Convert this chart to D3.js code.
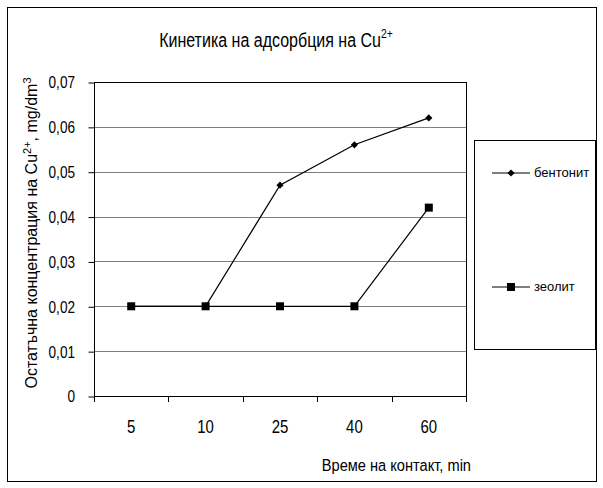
<!DOCTYPE html>
<html>
<head>
<meta charset="utf-8">
<script src="https://cdn.jsdelivr.net/npm/d3@7"></script>
<style>
  body { margin: 0; background: #fff; }
  text { font-family: "Liberation Sans", Arial, sans-serif; fill: #000; }
</style>
</head>
<body>
<svg id="chart" width="603" height="488"></svg>
<script>
// data
var times = ["5", "10", "25", "40", "60"];
var bentonit = [0.02, 0.02, 0.047, 0.056, 0.062];
var zeolit = [0.02, 0.02, 0.02, 0.02, 0.042];
var yTicks = [0, 0.01, 0.02, 0.03, 0.04, 0.05, 0.06, 0.07];

var svg = d3.select("#chart");
var fontFam = '"Liberation Sans", Arial, sans-serif';

// outer frame
svg.append("rect")
    .attr("x", 7.5).attr("y", 7.5)
    .attr("width", 589).attr("height", 474)
    .attr("fill", "#fff").attr("stroke", "#000").attr("stroke-width", 1);

var plot = {left: 94, top: 82, right: 466, bottom: 396};

var x = d3.scaleBand().domain(times).range([plot.left, plot.right]);
var y = d3.scaleLinear().domain([0, 0.07]).range([plot.bottom, plot.top]);

// gridlines
svg.append("g")
    .selectAll("line")
    .data(yTicks.slice(1))
    .enter().append("line")
        .attr("x1", plot.left).attr("x2", plot.right)
        .attr("y1", d => Math.round(y(d)) + 0.5)
        .attr("y2", d => Math.round(y(d)) + 0.5)
        .attr("stroke", "#808080");

// plot border
svg.append("rect")
    .attr("x", plot.left + 0.5).attr("y", plot.top + 0.5)
    .attr("width", plot.right - plot.left).attr("height", plot.bottom - plot.top)
    .attr("fill", "none").attr("stroke", "#000");

// y axis (labels squeezed horizontally, the original font is a narrow one)
var ySq = 0.8;
var yAxis = d3.axisLeft(y)
    .tickValues(yTicks)
    .tickSize(6)
    .tickFormat(d => d === 0 ? "0" : d3.format(".2f")(d).replace(".", ","));
svg.append("g")
    .attr("transform", "translate(" + (plot.left + 0.5) + ",0.5)")
    .call(yAxis)
    .call(g => g.select(".domain").remove())
    .call(g => g.selectAll("text")
        .attr("x", -19.5 / ySq)
        .attr("transform", "scale(" + ySq + ",1)")
        .style("font-size", "17px").style("font-family", fontFam));

// x axis, ticks at band edges
var xSq = 0.83;
var xAxis = d3.axisBottom(x).tickSize(0).tickPadding(24);
svg.append("g")
    .attr("transform", "translate(0," + (plot.bottom + 0.5) + ")")
    .call(xAxis)
    .call(g => g.select(".domain").remove())
    .call(g => g.selectAll(".tick text")
        .attr("transform", "scale(" + xSq + ",1)")
        .style("font-size", "18px").style("font-family", fontFam));
svg.append("g")
    .selectAll("line")
    .data(times.map(d => x(d)).concat([plot.right]))
    .enter().append("line")
        .attr("x1", d => Math.round(d) + 0.5).attr("x2", d => Math.round(d) + 0.5)
        .attr("y1", plot.bottom).attr("y2", plot.bottom + 6)
        .attr("stroke", "#000");

// series
var cx = d => x(d) + x.bandwidth() / 2;
var line = d3.line().x((d, i) => cx(times[i])).y(d => y(d));

svg.append("path").datum(zeolit)
    .attr("d", line).attr("fill", "none").attr("stroke", "#000").attr("stroke-width", 1.2);
svg.append("path").datum(bentonit)
    .attr("d", line).attr("fill", "none").attr("stroke", "#000").attr("stroke-width", 1.2);

// diamond = square turned 45 degrees
var diamond = d3.symbol().type(d3.symbolSquare).size(26);
svg.append("g").selectAll("path")
    .data(bentonit)
    .enter().append("path")
        .attr("d", diamond)
        .attr("transform", (d, i) => "translate(" + cx(times[i]) + "," + y(d) + ") rotate(45)")
        .attr("fill", "#000");

svg.append("g").selectAll("rect")
    .data(zeolit)
    .enter().append("rect")
        .attr("x", (d, i) => cx(times[i]) - 4)
        .attr("y", d => y(d) - 4)
        .attr("width", 8).attr("height", 8)
        .attr("fill", "#000");

// title
var title = svg.append("g")
    .attr("transform", "translate(276,47)")
    .append("text")
    .attr("transform", "scale(0.8,1)")
    .attr("text-anchor", "middle")
    .style("font-size", "20px");
title.append("tspan").text("Кинетика на адсорбция на Cu");
title.append("tspan").attr("dy", -9).style("font-size", "13px").text("2+");

// y axis title
var ytitle = svg.append("text")
    .attr("transform", "translate(37,233) rotate(-90)")
    .attr("text-anchor", "middle")
    .style("font-size", "16px");
ytitle.append("tspan").text("Остатъчна концентрация на Cu");
ytitle.append("tspan").attr("dy", -6).style("font-size", "11px").text("2+");
ytitle.append("tspan").attr("dy", 6).text(", mg/dm");
ytitle.append("tspan").attr("dy", -6).style("font-size", "11px").text("3");

// x axis title
svg.append("g")
    .attr("transform", "translate(471,471)")
    .append("text")
    .attr("transform", "scale(0.86,1)")
    .attr("text-anchor", "end")
    .style("font-size", "17px")
    .text("Време на контакт, min");

// legend
svg.append("rect")
    .attr("x", 474.5).attr("y", 140.5)
    .attr("width", 121).attr("height", 209)
    .attr("fill", "#fff").attr("stroke", "#000");

var legendItems = [
    {name: "бентонит", y: 173, marker: "diamond"},
    {name: "зеолит", y: 287, marker: "square"}
];
var leg = svg.append("g").selectAll("g")
    .data(legendItems)
    .enter().append("g")
        .attr("transform", d => "translate(0," + d.y + ")");
leg.append("line")
    .attr("x1", 492).attr("x2", 530)
    .attr("stroke", "#000").attr("stroke-width", 1.2);
leg.filter(d => d.marker === "diamond").append("path")
    .attr("d", diamond).attr("transform", "translate(511,0) rotate(45)");
leg.filter(d => d.marker === "square").append("rect")
    .attr("x", 507).attr("y", -4).attr("width", 8).attr("height", 8);
leg.append("text")
    .attr("x", 534).attr("dy", "0.32em")
    .style("font-size", "13px")
    .text(d => d.name);
</script>
</body>
</html>
